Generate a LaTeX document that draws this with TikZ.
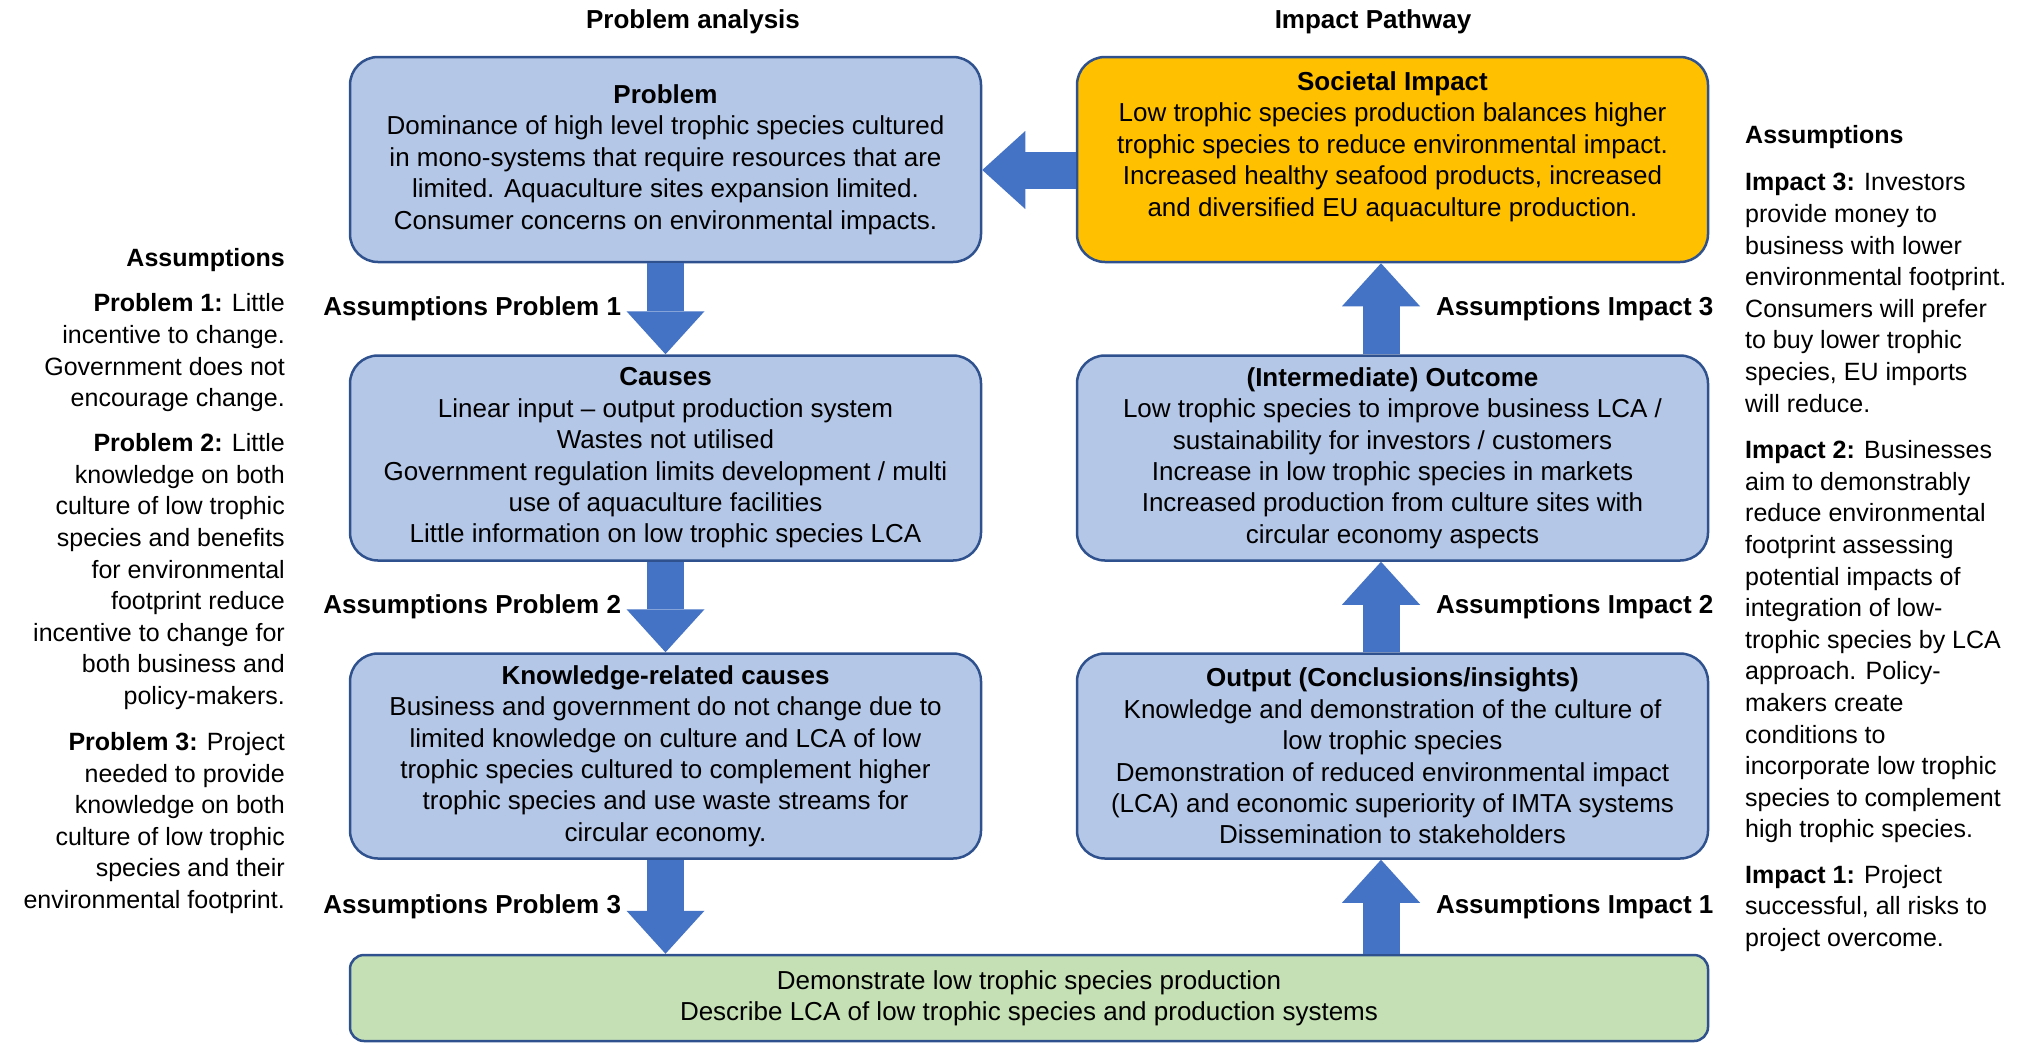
\documentclass[tikz,border=0pt]{standalone}
\usepackage{fontspec}
\setmainfont{Liberation Sans}
\usetikzlibrary{arrows.meta,positioning}

\definecolor{boxblue}{HTML}{B4C7E7}
\definecolor{boxline}{HTML}{2F528F}
\definecolor{impactyellow}{HTML}{FFC000}
\definecolor{demogreen}{HTML}{C5E0B4}
\definecolor{arrowblue}{HTML}{4472C4}

\begin{document}
\begin{tikzpicture}[
  x=1pt, y=-1pt,
  box/.style = {
    shape=rectangle,
    rounded corners=28pt,
    draw=boxline,
    line width=2.5pt,
    fill=boxblue,
    align=center,
    minimum width=631pt,
    minimum height=205pt,
    inner sep=0pt,
    font=\fontsize{26}{31.4}\selectfont
  },
  blockarrow/.style = {
    draw=arrowblue,
    line width=37pt,
    -{Triangle[length=43pt, width=78pt, line width=0pt]}
  },
  heading/.style = {inner sep=0pt, font=\bfseries\fontsize{26}{31}\selectfont},
  lbl/.style = {inner sep=0pt, outer sep=0pt, text=black, font=\bfseries\fontsize{26}{31}\selectfont},
  side/.style = {inner sep=0pt, font=\fontsize{25}{31.6}\selectfont}
]
\useasboundingbox (0,0) rectangle (2023,1045);

\node[heading, anchor=base] (panal) at (693,28) {Problem analysis};
\node[heading, anchor=base] (ipath) at (1373,28) {Impact Pathway};

\node[box] (prob) at (665.5,159.5) {\textbf{Problem}\\
  Dominance of high level trophic species cultured\\
  in mono-systems that require resources that are\\
  limited.  Aquaculture sites expansion limited.\\
  Consumer concerns on environmental impacts.};
\node[box, fill=impactyellow] (soc) at (1392.5,159.5) {\textbf{Societal Impact}\\
  Low trophic species production balances higher\\
  trophic species to reduce environmental impact.\\
  Increased healthy seafood products, increased\\
  and diversified EU aquaculture production.\\
  \phantom{X}};
\node[box] (causes) at (665.5,458) {\textbf{Causes}\\
  Linear input -- output production system\\
  Wastes not utilised\\
  Government regulation limits development / multi\\
  use of aquaculture facilities\\
  Little information on low trophic species LCA};
\node[box] (outcome) at (1392.5,458) {\textbf{(Intermediate) Outcome}\\
  Low trophic species to improve business LCA /\\
  sustainability for investors / customers\\
  Increase in low trophic species in markets\\
  Increased production from culture sites with\\
  circular economy aspects};
\node[box] (know) at (665.5,756) {\textbf{Knowledge-related causes}\\
  Business and government do not change due to\\
  limited knowledge on culture and LCA of low\\
  trophic species cultured to complement higher\\
  trophic species and use waste streams for\\
  circular economy.};
\node[box] (output) at (1392.5,756) {\textbf{Output (Conclusions/insights)}\\
  Knowledge and demonstration of the culture of\\
  low trophic species\\
  Demonstration of reduced environmental impact\\
  (LCA) and economic superiority of IMTA systems\\
  Dissemination to stakeholders};
\node[box, fill=demogreen, rounded corners=14pt, minimum width=1358pt, minimum height=86pt] (demo) at (1029,998) {Demonstrate low trophic species production\\
  Describe LCA of low trophic species and production systems};

\coordinate (rx) at (1381,0);

\draw[blockarrow] ([yshift=-10.5pt]soc.west) -- ([yshift=-10.5pt]prob.east);
\draw[blockarrow] (prob.south) -- node[lbl, left=44.5pt] (ap1) {Assumptions Problem 1} (causes.north);
\draw[blockarrow] (causes.south) -- node[lbl, left=44.5pt] (ap2) {Assumptions Problem 2} (know.north);
\draw[blockarrow] (know.south) -- node[lbl, left=44.5pt] (ap3) {Assumptions Problem 3} (demo.north -| know.south);
\draw[blockarrow] (demo.north -| rx) -- node[lbl, right=55pt] (ai1) {Assumptions Impact 1} (output.south -| rx);
\draw[blockarrow] (output.north -| rx) -- node[lbl, right=55pt] (ai2) {Assumptions Impact 2} (outcome.south -| rx);
\draw[blockarrow] (outcome.north -| rx) -- node[lbl, right=55pt] (ai3) {Assumptions Impact 3} (soc.south -| rx);

\node[side, align=right, anchor=north east] (probnotes) at (285,248) {\textbf{Assumptions}\\[14pt]
  \textbf{Problem 1:} Little\\
  incentive to change.\\
  Government does not\\
  encourage change.\\[13.4pt]
  \textbf{Problem 2:} Little\\
  knowledge on both\\
  culture of low trophic\\
  species and benefits\\
  for environmental\\
  footprint reduce\\
  incentive to change for\\
  both business and\\
  policy-makers.\\[14.4pt]
  \textbf{Problem 3:} Project\\
  needed to provide\\
  knowledge on both\\
  culture of low trophic\\
  species and their\\
  environmental footprint.};

\node[side, align=left, anchor=north west] (impnotes) at (1745,125) {\textbf{Assumptions}\\[16pt]
  \textbf{Impact 3:} Investors\\
  provide money to\\
  business with lower\\
  environmental footprint.\\
  Consumers will prefer\\
  to buy lower trophic\\
  species, EU imports\\
  will reduce.\\[15pt]
  \textbf{Impact 2:} Businesses\\
  aim to demonstrably\\
  reduce environmental\\
  footprint assessing\\
  potential impacts of\\
  integration of low-\\
  trophic species by LCA\\
  approach. Policy-\\
  makers create\\
  conditions to\\
  incorporate low trophic\\
  species to complement\\
  high trophic species.\\[13.5pt]
  \textbf{Impact 1:} Project\\
  successful, all risks to\\
  project overcome.};

\end{tikzpicture}
\end{document}
